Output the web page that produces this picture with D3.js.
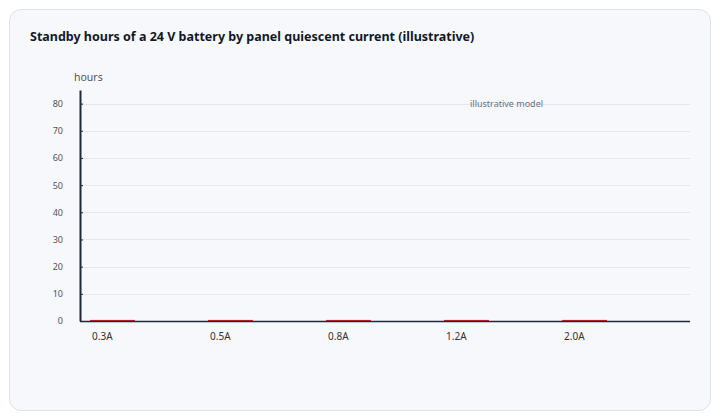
<!DOCTYPE html>
<html>
<head>
<meta charset="utf-8" />
<title>Standby hours</title>
<script src="https://d3js.org/d3.v7.min.js"></script>
<style>
  body { margin: 0; background: #ffffff; font-family: "Noto Sans", "Open Sans", sans-serif; }
  .card {
    position: absolute; left: 9px; top: 9px; width: 700px; height: 400px;
    background: #f6f8fc; border: 1px solid #dde2ea; border-radius: 12px;
  }
  svg { position: absolute; left: 0; top: 0; }
  .grid line { stroke: #e3e8ef; }
</style>
</head>
<body>
<div class="card"></div>
<svg width="720" height="420"></svg>
<script>
// chart values
var currents = ["0.3A", "0.5A", "0.8A", "1.2A", "2.0A"];
var hours = [0.4, 0.4, 0.4, 0.4, 0.4];
var yTicks = [0, 10, 20, 30, 40, 50, 60, 70, 80];

var svg = d3.select("svg");
var plotLeft = 80, plotRight = 690, plotTop = 90, plotBottom = 321;

var x = d3.scaleBand().domain(currents).range([plotLeft, 617])
    .paddingInner(0.62).paddingOuter(0.085);
var y = d3.scaleLinear().domain([0, 85]).range([plotBottom, plotTop]);

svg.append("text")
    .attr("x", 30).attr("y", 41)
    .attr("font-size", 12.5).attr("font-weight", "bold")
    .attr("fill", "#111827")
    .text("Standby hours of a 24 V battery by panel quiescent current (illustrative)");

// grid
svg.append("g").attr("class", "grid")
    .selectAll("line").data(yTicks.slice(1)).enter().append("line")
    .attr("x1", plotLeft).attr("x2", plotRight)
    .attr("y1", function(d) { return Math.round(y(d)) + 0.5; })
    .attr("y2", function(d) { return Math.round(y(d)) + 0.5; });

// y axis
var ya = svg.append("g").attr("transform", "translate(" + plotLeft + ",0)")
    .call(d3.axisLeft(y).tickValues(yTicks).tickSizeInner(-3).tickSizeOuter(0).tickPadding(17));
ya.select(".domain").attr("stroke", "#1f2937").attr("stroke-width", 2);
ya.selectAll(".tick line").attr("stroke", "#1f2937");
ya.selectAll(".tick text").attr("fill", "#555").attr("font-size", 9)
    .attr("font-family", "Noto Sans, sans-serif");

svg.append("text").attr("x", 74).attr("y", 81)
    .attr("font-size", 10.5).attr("fill", "#555").text("hours");

// bars
svg.selectAll(".bar").data(hours).enter().append("rect")
    .attr("class", "bar")
    .attr("x", function(d, i) { return x(currents[i]); })
    .attr("y", function(d) { return y(d); })
    .attr("width", x.bandwidth())
    .attr("height", function(d) { return plotBottom - y(d); })
    .attr("fill", "#e0191c");

// x axis line
svg.append("line").attr("x1", plotLeft).attr("x2", plotRight)
    .attr("y1", plotBottom + 0.5).attr("y2", plotBottom + 0.5)
    .attr("stroke", "#1f2937").attr("stroke-width", 1.3);

svg.selectAll(".xlab").data(currents).enter().append("text")
    .attr("class", "xlab")
    .attr("x", function(d) { return x(d) + 2; })
    .attr("y", 340)
    .attr("font-size", 10).attr("fill", "#333")
    .text(function(d) { return d; });

svg.append("text").attr("x", 470).attr("y", 107)
    .attr("font-size", 9).attr("fill", "#6b7280")
    .text("illustrative model");
</script>
</body>
</html>
